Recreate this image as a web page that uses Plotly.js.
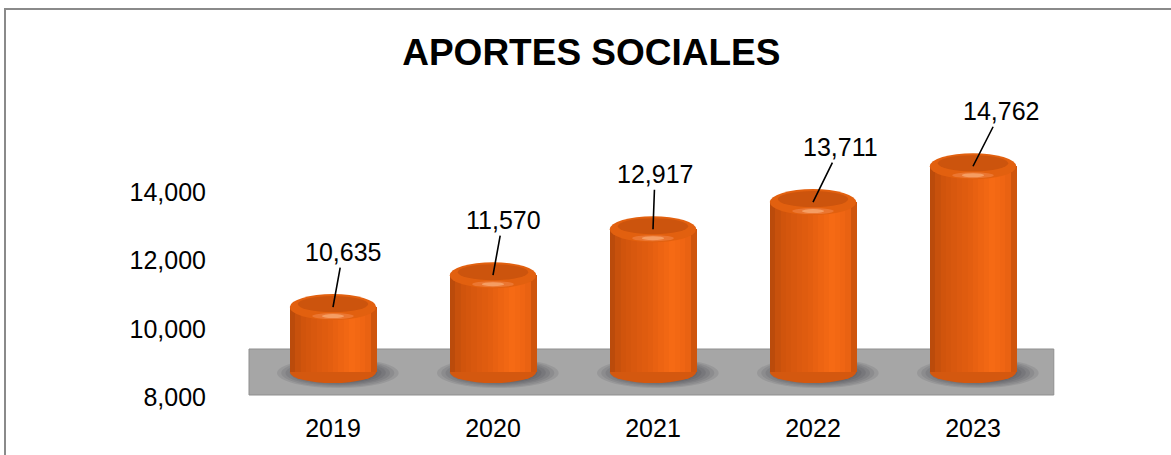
<!DOCTYPE html>
<html>
<head>
<meta charset="utf-8">
<script src="https://cdn.plot.ly/plotly-3.0.1.min.js"></script>
<style>html,body{margin:0;padding:0;background:#fff;}#chart{width:1171px;height:455px;}</style>
</head>
<body>
<div id="chart"></div>
<script>
// ---- data ----
const years = ['2019', '2020', '2021', '2022', '2023'];
const aportes = [10635, 11570, 12917, 13711, 14762];
const yTicks = [8000, 10000, 12000, 14000];
const chartTitle = 'APORTES SOCIALES';

// ---- style / layout constants ----
const FONT = 'Liberation Sans, Arial, sans-serif';
const BASE = 8730;
const W = 0.54;
const N = 16;
const labelDx = [10, 10, 2, 27, 28];
const PXU = 273 / 8000;

function lerp(a, b, t) { return a + (b - a) * t; }
function hex(c) { return '#' + c.map(v => Math.round(v).toString(16).padStart(2, '0')).join(''); }
const stops = [
  [0.00, [180, 72, 10]],
  [0.12, [206, 83, 12]],
  [0.45, [226, 93, 16]],
  [0.72, [246, 106, 20]],
  [0.90, [236, 99, 18]],
  [1.00, [194, 78, 10]]
];
function colorAt(t) {
  for (let i = 0; i < stops.length - 1; i++) {
    const [t0, c0] = stops[i], [t1, c1] = stops[i + 1];
    if (t >= t0 && t <= t1) {
      const s = (t - t0) / (t1 - t0);
      return hex([0, 1, 2].map(k => lerp(c0[k], c1[k], s)));
    }
  }
  return hex(stops[stops.length - 1][1]);
}

const traces = [];
for (let i = 0; i < N; i++) {
  traces.push({
    type: 'bar',
    x: years,
    y: aportes.map(v => v - BASE),
    base: BASE,
    width: W / N + 0.003,
    offset: -W / 2 + i * W / N,
    marker: { color: colorAt((i + 0.5) / N), line: { width: 0 } },
    hoverinfo: 'skip',
    showlegend: false
  });
}

const shapes = [];
shapes.push({ type: 'rect', xref: 'paper', yref: 'paper', x0: -0.31, x1: 1.3, y0: -0.4, y1: 1.421,
  line: { color: '#8a8a8a', width: 2 }, fillcolor: 'rgba(0,0,0,0)', layer: 'below' });
shapes.push({ type: 'rect', xref: 'paper', yref: 'paper', x0: -0.005, x1: 1.001, y0: 0.0073, y1: 0.1758,
  line: { color: '#8f8f8f', width: 1 }, fillcolor: '#a6a6a6', layer: 'below' });

const u = px => px / PXU;
years.forEach((yr, i) => {
  for (let k = 0; k < 10; k++) {
    const s = 1 - k * 0.07;
    shapes.push({ type: 'circle', xref: 'x', yref: 'y', x0: i + 0.03 - 0.38 * s, x1: i + 0.03 + 0.38 * s,
      y0: BASE - u(16 * s), y1: BASE + u(14 * s), fillcolor: 'rgba(50,50,55,0.11)', line: { width: 0 }, layer: 'below' });
  }
  shapes.push({ type: 'circle', xref: 'x', yref: 'y', x0: i - W / 2, x1: i + W / 2,
    y0: BASE - u(11), y1: BASE + u(11), fillcolor: '#d4580f', line: { width: 0 }, layer: 'below' });
  const v = aportes[i];
  // top cap
  shapes.push({ type: 'circle', xref: 'x', yref: 'y', x0: i - W / 2, x1: i + W / 2,
    y0: v - u(13), y1: v + u(13), fillcolor: '#e2600f', line: { width: 0 }, layer: 'above' });
  shapes.push({ type: 'circle', xref: 'x', yref: 'y', x0: i - W / 2 + 0.05, x1: i + W / 2 - 0.05,
    y0: v - u(5), y1: v + u(11), fillcolor: '#cc540d', line: { width: 0 }, layer: 'above' });
  shapes.push({ type: 'circle', xref: 'x', yref: 'y', x0: i - 0.13, x1: i + 0.13,
    y0: v - u(12), y1: v - u(6), fillcolor: '#f08040', line: { width: 0 }, layer: 'above', opacity: 0.7 });
  shapes.push({ type: 'circle', xref: 'x', yref: 'y', x0: i - 0.07, x1: i + 0.07,
    y0: v - u(11), y1: v - u(7), fillcolor: '#f8a870', line: { width: 0 }, layer: 'above', opacity: 0.8 });
});

const annotations = years.map((yr, i) => ({
  x: i, y: aportes[i], xref: 'x', yref: 'y',
  text: String(aportes[i]).replace(/\B(?=(\d{3})+(?!\d))/g, ','),
  showarrow: true, arrowhead: 0, arrowwidth: 1.6, arrowcolor: '#000000',
  ax: labelDx[i], ay: -55,
  font: { family: FONT, size: 25, color: '#000000' }
}));

const layout = {
  width: 1171, height: 455,
  margin: { l: 253, r: 118, t: 124, b: 58 },
  paper_bgcolor: '#fff', plot_bgcolor: 'rgba(0,0,0,0)',
  barmode: 'overlay', bargap: 0,
  title: { text: '<b>' + chartTitle + '</b>', font: { family: FONT, size: 37, color: '#000' },
    x: 0.505, xref: 'container', xanchor: 'center', y: 0.886, yref: 'container', yanchor: 'middle' },
  xaxis: { type: 'category', range: [-0.5, 4.5], showgrid: false, zeroline: false, showline: false,
    ticks: '', ticklabelstandoff: 14, tickfont: { family: FONT, size: 25, color: '#000' }, fixedrange: true },
  yaxis: { range: [8000, 16000], tickvals: yTicks, tickformat: ',d', showgrid: false, zeroline: false,
    showline: false, ticks: '', ticklabelstandoff: 46, tickfont: { family: FONT, size: 25, color: '#000' }, fixedrange: true },
  shapes: shapes,
  annotations: annotations,
  showlegend: false
};

Plotly.newPlot('chart', traces, layout, { displayModeBar: false });
</script>
</body>
</html>
